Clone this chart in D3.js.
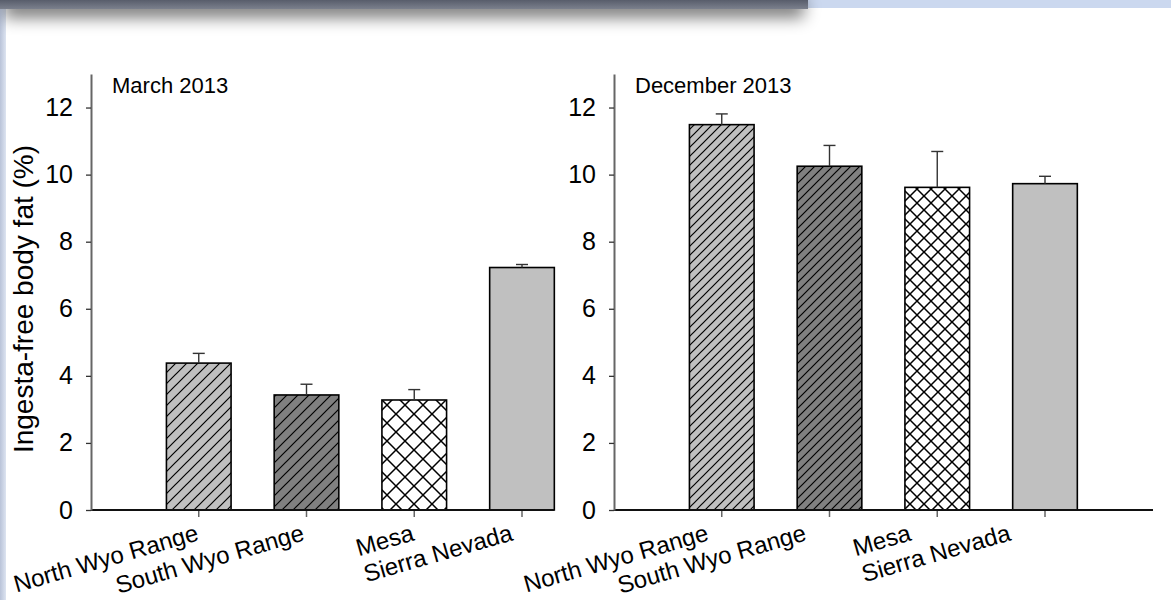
<!DOCTYPE html>
<html>
<head>
<meta charset="utf-8">
<script src="https://cdn.jsdelivr.net/npm/d3@7"></script>
<style>
  body { margin: 0; background: #fff; }
  svg { display: block; font-family: "Liberation Sans", Arial, sans-serif; }
</style>
</head>
<body>
<script>
// values
const categories = ["North Wyo Range", "South Wyo Range", "Mesa", "Sierra Nevada"];
const panelTitles = ["March 2013", "December 2013"];
const marchMeans = [4.38, 3.43, 3.28, 7.23];
const marchErr = [0.29, 0.32, 0.31, 0.09];
const decMeans = [11.49, 10.25, 9.62, 9.73];
const decErr = [0.32, 0.62, 1.07, 0.22];
const yTicks = [0, 2, 4, 6, 8, 10, 12];
const yLabel = "Ingesta-free body fat (%)";

const W = 1171, H = 600;
const svg = d3.select("body").append("svg").attr("width", W).attr("height", H);
const defs = svg.append("defs");

// slide-ish frame: blue strips + dark header bar with shadow
svg.append("rect").attr("width", W).attr("height", H).attr("fill", "#fff");
const lg = defs.append("linearGradient").attr("id", "leftStrip");
lg.append("stop").attr("offset", "0%").attr("stop-color", "#b9c3d8");
lg.append("stop").attr("offset", "100%").attr("stop-color", "#dde4f1");
svg.append("rect").attr("x", 0).attr("y", 0).attr("width", 6).attr("height", H).attr("fill", "url(#leftStrip)");
svg.append("rect").attr("x", 0).attr("y", 0).attr("width", W).attr("height", 8).attr("fill", "#cbd8ef");
defs.append("filter").attr("id", "blur").attr("x", "-10%").attr("y", "-100%").attr("width", "120%").attr("height", "400%")
  .append("feGaussianBlur").attr("stdDeviation", 8);
svg.append("rect").attr("x", 4).attr("y", -4).attr("width", 800).attr("height", 22)
  .attr("fill", "#000").attr("opacity", 0.5).attr("filter", "url(#blur)");
const dg = defs.append("linearGradient").attr("id", "darkBar").attr("x2", 0).attr("y2", 1);
dg.append("stop").attr("offset", "0%").attr("stop-color", "#585d6b");
dg.append("stop").attr("offset", "100%").attr("stop-color", "#7b808d");
svg.append("rect").attr("x", 0).attr("y", 0).attr("width", 808).attr("height", 9).attr("fill", "url(#darkBar)");

// fill patterns, left panel a little coarser than the right
function hatch(id, s, bg) {
  const p = defs.append("pattern").attr("id", id).attr("patternUnits", "userSpaceOnUse")
    .attr("width", s).attr("height", s);
  p.append("rect").attr("width", s).attr("height", s).attr("fill", bg);
  p.append("path").attr("d", `M-1,1 l2,-2 M0,${s} l${s},${-s} M${s - 1},${s + 1} l2,-2`)
    .attr("stroke", "#000").attr("stroke-width", 1.2);
}
function cross(id, s) {
  const p = defs.append("pattern").attr("id", id).attr("patternUnits", "userSpaceOnUse")
    .attr("width", s).attr("height", s);
  p.append("rect").attr("width", s).attr("height", s).attr("fill", "#fff");
  p.append("path").attr("d", `M0,0 L${s},${s} M${s},0 L0,${s}`)
    .attr("stroke", "#000").attr("stroke-width", 1.5);
}
hatch("light0", 11, "#c0c0c0"); hatch("dark0", 11, "#808080"); cross("cross0", 18);
hatch("light1", 9, "#c0c0c0"); hatch("dark1", 9, "#808080"); cross("cross1", 14);
const fills = i => [`url(#light${i})`, `url(#dark${i})`, `url(#cross${i})`, "#c0c0c0"];

const y = d3.scaleLinear().domain([0, 13]).range([510, 74]);

const panels = [
  { x0: 91, xEnd: 554, means: marchMeans, err: marchErr, shift: [1, -1, 1, -8] },
  { x0: 614, xEnd: 1153, means: decMeans, err: decErr, shift: [-12, -22, -25, -33] }
];
const step = 107.75;

panels.forEach((p, pi) => {
  const x = d3.scaleBand().domain(categories)
    .range([p.x0 + step / 2, p.x0 + step / 2 + 4 * step])
    .paddingInner(0.4).paddingOuter(0.2);
  const data = categories.map((c, i) => ({ c, m: p.means[i], e: p.err[i], i }));
  const g = svg.append("g");

  // bars
  g.selectAll("rect.bar").data(data).enter().append("rect")
    .attr("class", "bar")
    .attr("x", d => x(d.c))
    .attr("y", d => y(d.m))
    .attr("width", x.bandwidth())
    .attr("height", d => y(0) - y(d.m))
    .attr("fill", d => fills(pi)[d.i])
    .attr("stroke", "#000")
    .attr("stroke-width", 1.6);

  // upper error bars
  const eb = g.selectAll("g.err").data(data).enter().append("g").attr("class", "err")
    .attr("stroke", "#333").attr("stroke-width", 1.4);
  eb.append("line")
    .attr("x1", d => x(d.c) + x.bandwidth() / 2).attr("x2", d => x(d.c) + x.bandwidth() / 2)
    .attr("y1", d => y(d.m)).attr("y2", d => y(d.m + d.e));
  eb.append("line")
    .attr("x1", d => x(d.c) + x.bandwidth() / 2 - 6).attr("x2", d => x(d.c) + x.bandwidth() / 2 + 6)
    .attr("y1", d => y(d.m + d.e)).attr("y2", d => y(d.m + d.e));

  // x axis
  const xa = g.append("g").attr("transform", `translate(0,${y(0)})`)
    .call(d3.axisBottom(x).tickSize(7).tickSizeOuter(0).tickFormat(""));
  xa.select(".domain").remove();
  xa.selectAll(".tick line").attr("stroke", "#666").attr("stroke-width", 1.5);
  g.append("line").attr("x1", p.x0).attr("x2", p.xEnd).attr("y1", y(0)).attr("y2", y(0))
    .attr("stroke", "#111").attr("stroke-width", 2);

  // y axis
  const ya = g.append("g").attr("transform", `translate(${p.x0},0)`)
    .call(d3.axisLeft(y).tickValues(yTicks).tickSize(5).tickPadding(13).tickSizeOuter(0));
  ya.select(".domain").attr("stroke", "#666").attr("stroke-width", 2);
  ya.selectAll(".tick line").attr("stroke", "#333").attr("stroke-width", 1.3);
  ya.selectAll(".tick text").attr("font-size", 25).attr("fill", "#000")
    .attr("font-family", "Liberation Sans, Arial, sans-serif");

  // category labels, slanted
  g.selectAll("text.cat").data(data).enter().append("text")
    .attr("class", "cat")
    .attr("text-anchor", "end")
    .attr("font-size", 24)
    .attr("transform", d => `translate(${x(d.c) + x.bandwidth() / 2 + p.shift[d.i]},540) rotate(-16)`)
    .text(d => d.c);

  // panel title
  g.append("text").attr("x", p.x0 + 21).attr("y", 93).attr("font-size", 22).text(panelTitles[pi]);
});

svg.append("text")
  .attr("transform", "translate(33,299) rotate(-90)")
  .attr("text-anchor", "middle")
  .attr("font-size", 28)
  .text(yLabel);
</script>
</body>
</html>
